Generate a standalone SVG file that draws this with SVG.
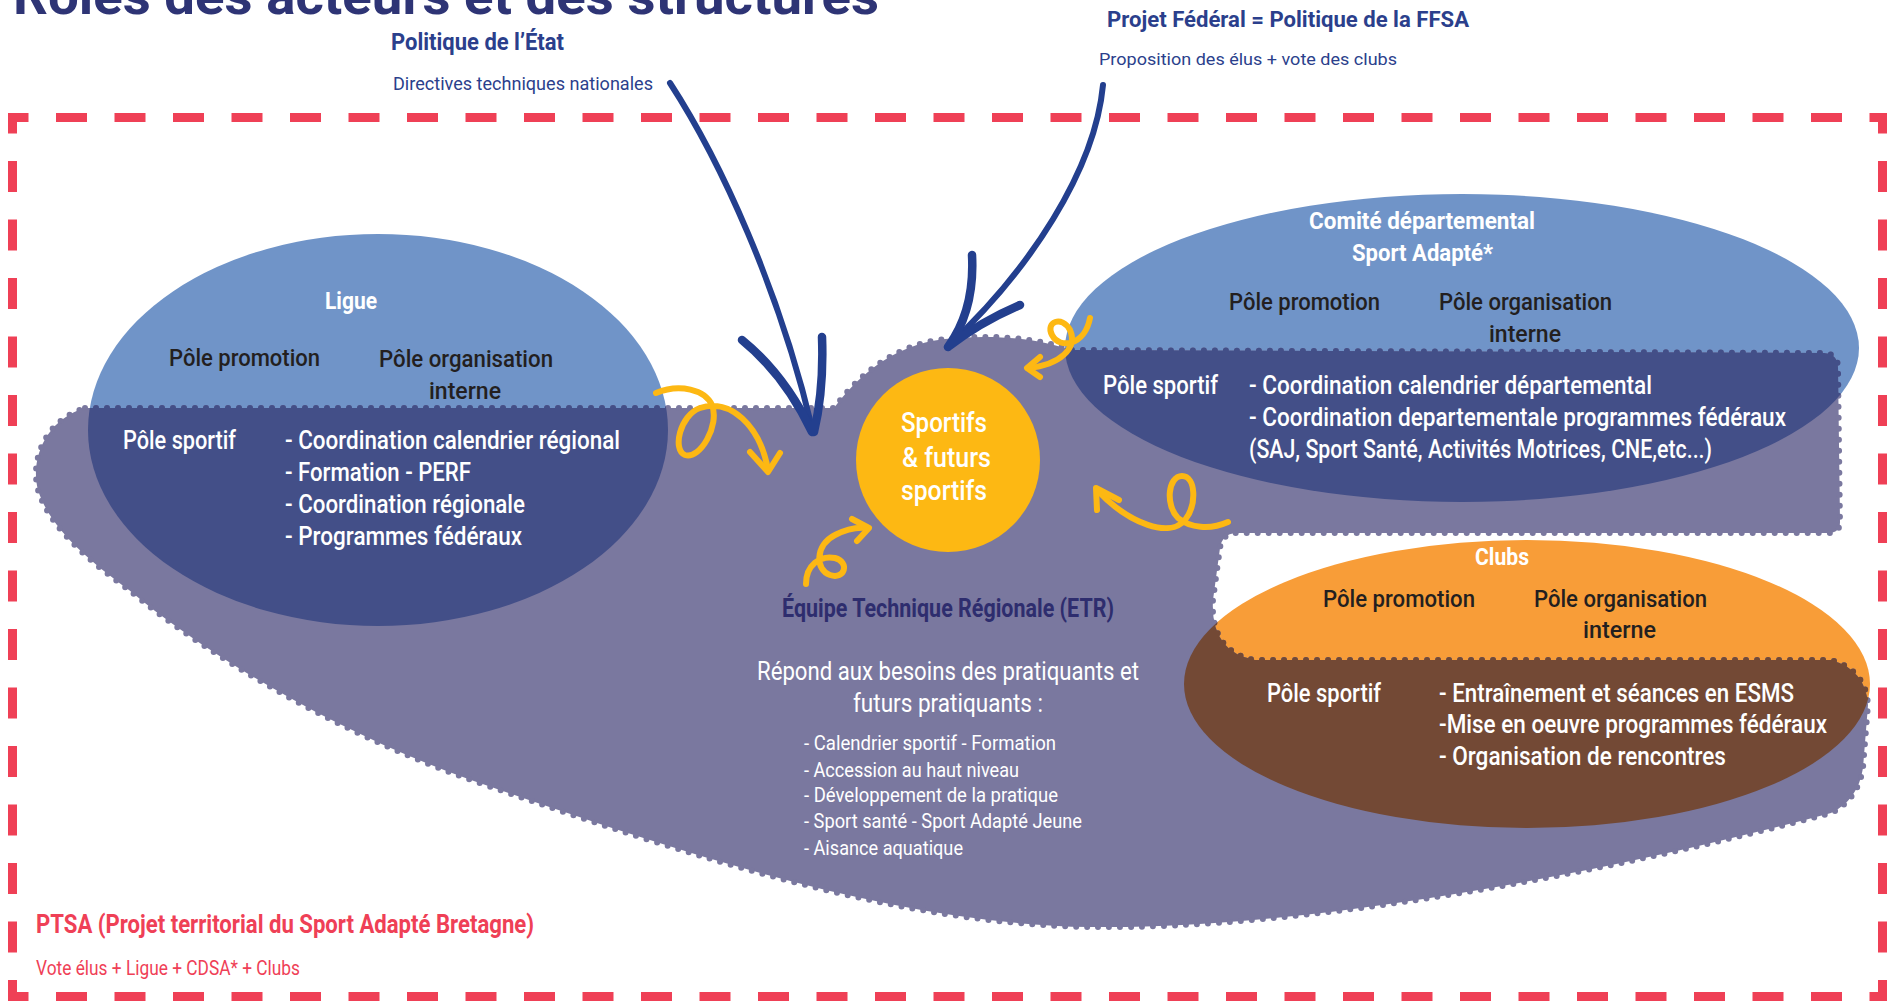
<svg xmlns="http://www.w3.org/2000/svg" width="1887" height="1001" viewBox="0 0 1887 1001">
<style>
text{font-family:Roboto,"Liberation Sans",sans-serif}
.dash{fill:none;stroke:#EF4056;stroke-width:9;stroke-dasharray:31 27.5;stroke-dashoffset:10.5}
.navyT{fill:#2B3F8C}
.b{font-weight:700}
.m{font-weight:500}
.w{fill:#fff}
.k{fill:#231F20;font-weight:500;font-size:24px}
.s{fill:#fff;font-weight:500;font-size:25px}
.lb{fill:#7094C8}
.nv{fill:#434F88}
.blob{fill:#7A789F;stroke:#7A789F;stroke-width:6;stroke-linecap:round;stroke-dasharray:0 11}
.bl{fill:none;stroke:#233F8E;stroke-linecap:round;stroke-linejoin:round}
.yl{fill:none;stroke:#FDB813;stroke-width:6;stroke-linecap:round;stroke-linejoin:round}
</style>
<defs>
<path id="blobPath" d="M 85,408 L 834,408 C 855,380 890,345 945,339 C 990,334 1040,338 1070,350 L 1824,353 Q 1838,354 1838,368 L 1840,522 Q 1840,533 1828,533 L 1236,533 Q 1222,534 1220,548 L 1213,600 Q 1210,652 1255,660 L 1831,660 Q 1866,670 1868,705 L 1863,768 Q 1858,800 1831,813 C 1600,875 1300,930 1090,927 C 900,924 700,860 471,780 C 330,730 200,650 129,590 C 95,565 50,530 38,490 C 30,460 45,420 85,408 Z"/>
<mask id="blobMask" maskUnits="userSpaceOnUse" x="0" y="0" width="1887" height="1001">
<use href="#blobPath" fill="#fff" stroke="#fff" stroke-width="6" stroke-linecap="round" stroke-dasharray="0 11"/>
</mask>
</defs>
<rect width="1887" height="1001" fill="#fff"/>

<g id="title">
<text x="13" y="14" class="b" font-size="52" fill="#2E3475" textLength="866" lengthAdjust="spacingAndGlyphs">Rôles des acteurs et des structures</text>
</g>

<g id="border">
<path class="dash" d="M 8,117.5 H 1887"/>
<path class="dash" d="M 12.5,113 V 1001"/>
<path class="dash" d="M 1882.5,113 V 1001"/>
<path class="dash" d="M 8,996.5 H 1887"/>
</g>

<g id="etat">
<text x="391" y="50" class="navyT b" font-size="23" textLength="173" lengthAdjust="spacingAndGlyphs">Politique de l’État</text>
<text x="393" y="90" class="navyT" font-size="19" textLength="260" lengthAdjust="spacingAndGlyphs">Directives techniques nationales</text>
</g>

<g id="ffsa">
<text x="1107" y="27" class="navyT b" font-size="22" textLength="362" lengthAdjust="spacingAndGlyphs">Projet Fédéral = Politique de la FFSA</text>
<text x="1099" y="65" class="navyT" font-size="17" textLength="298" lengthAdjust="spacingAndGlyphs">Proposition des élus + vote des clubs</text>
</g>

<g id="shapes">
<ellipse class="lb" cx="378" cy="430" rx="290" ry="196"/>
<ellipse class="lb" cx="1462" cy="348" rx="397" ry="154"/>
<ellipse fill="#F89D38" cx="1527" cy="684" rx="343" ry="144"/>
<use href="#blobPath" class="blob"/>
<ellipse class="nv" cx="378" cy="430" rx="290" ry="196" mask="url(#blobMask)"/>
<ellipse class="nv" cx="1462" cy="348" rx="397" ry="154" mask="url(#blobMask)"/>
<ellipse fill="#734935" cx="1527" cy="684" rx="343" ry="144" mask="url(#blobMask)"/>
</g>

<g id="ligue">
<text x="325" y="309" class="w b" font-size="23" textLength="52" lengthAdjust="spacingAndGlyphs">Ligue</text>
<text x="169" y="366" class="k" textLength="151" lengthAdjust="spacingAndGlyphs">Pôle promotion</text>
<text x="379" y="367" class="k" textLength="174" lengthAdjust="spacingAndGlyphs">Pôle organisation</text>
<text x="429" y="399" class="k" textLength="72" lengthAdjust="spacingAndGlyphs">interne</text>
<text x="123" y="449" class="s" textLength="113" lengthAdjust="spacingAndGlyphs">Pôle sportif</text>
<text x="285" y="449" class="s" textLength="335" lengthAdjust="spacingAndGlyphs">- Coordination calendrier régional</text>
<text x="285" y="481" class="s" textLength="186" lengthAdjust="spacingAndGlyphs">- Formation - PERF</text>
<text x="285" y="513" class="s" textLength="240" lengthAdjust="spacingAndGlyphs">- Coordination régionale</text>
<text x="285" y="545" class="s" textLength="237" lengthAdjust="spacingAndGlyphs">- Programmes fédéraux</text>
</g>

<g id="comite">
<text x="1309" y="229" class="w b" font-size="24" textLength="226" lengthAdjust="spacingAndGlyphs">Comité départemental</text>
<text x="1352" y="261" class="w b" font-size="24" textLength="141" lengthAdjust="spacingAndGlyphs">Sport Adapté*</text>
<text x="1229" y="310" class="k" textLength="151" lengthAdjust="spacingAndGlyphs">Pôle promotion</text>
<text x="1439" y="310" class="k" textLength="173" lengthAdjust="spacingAndGlyphs">Pôle organisation</text>
<text x="1489" y="342" class="k" textLength="72" lengthAdjust="spacingAndGlyphs">interne</text>
<text x="1103" y="394" class="s" textLength="115" lengthAdjust="spacingAndGlyphs">Pôle sportif</text>
<text x="1249" y="394" class="s" textLength="403" lengthAdjust="spacingAndGlyphs">- Coordination calendrier départemental</text>
<text x="1249" y="426" class="s" textLength="537" lengthAdjust="spacingAndGlyphs">- Coordination departementale programmes fédéraux</text>
<text x="1249" y="458" class="s" textLength="463" lengthAdjust="spacingAndGlyphs">(SAJ, Sport Santé, Activités Motrices, CNE,etc...)</text>
</g>

<g id="clubs">
<text x="1475" y="565" class="w b" font-size="24" textLength="54" lengthAdjust="spacingAndGlyphs">Clubs</text>
<text x="1323" y="607" class="k" textLength="152" lengthAdjust="spacingAndGlyphs">Pôle promotion</text>
<text x="1534" y="607" class="k" textLength="173" lengthAdjust="spacingAndGlyphs">Pôle organisation</text>
<text x="1583" y="638" class="k" textLength="73" lengthAdjust="spacingAndGlyphs">interne</text>
<text x="1267" y="702" class="s" textLength="114" lengthAdjust="spacingAndGlyphs">Pôle sportif</text>
<text x="1439" y="702" class="s" textLength="355" lengthAdjust="spacingAndGlyphs">- Entraînement et séances en ESMS</text>
<text x="1439" y="733" class="s" textLength="388" lengthAdjust="spacingAndGlyphs">-Mise en oeuvre programmes fédéraux</text>
<text x="1439" y="765" class="s" textLength="287" lengthAdjust="spacingAndGlyphs">- Organisation de rencontres</text>
</g>

<g id="sportifs">
<circle cx="948" cy="460" r="92" fill="#FDB813"/>
<text x="901" y="432" class="w m" font-size="28" textLength="86" lengthAdjust="spacingAndGlyphs">Sportifs</text>
<text x="902" y="467" class="w m" font-size="28" textLength="89" lengthAdjust="spacingAndGlyphs">&amp; futurs</text>
<text x="901" y="500" class="w m" font-size="28" textLength="86" lengthAdjust="spacingAndGlyphs">sportifs</text>
</g>

<g id="etr">
<text x="782" y="617" class="b" fill="#2E2D6E" font-size="25" textLength="332" lengthAdjust="spacingAndGlyphs">Équipe Technique Régionale (ETR)</text>
<text x="757" y="680" class="w" font-size="25" textLength="382" lengthAdjust="spacingAndGlyphs">Répond aux besoins des pratiquants et</text>
<text x="853" y="712" class="w" font-size="25" textLength="190" lengthAdjust="spacingAndGlyphs">futurs pratiquants :</text>
<text x="804" y="750" class="w" font-size="20" textLength="252" lengthAdjust="spacingAndGlyphs">- Calendrier sportif - Formation</text>
<text x="804" y="777" class="w" font-size="20" textLength="215" lengthAdjust="spacingAndGlyphs">- Accession au haut niveau</text>
<text x="804" y="802" class="w" font-size="20" textLength="254" lengthAdjust="spacingAndGlyphs">- Développement de la pratique</text>
<text x="804" y="828" class="w" font-size="20" textLength="278" lengthAdjust="spacingAndGlyphs">- Sport santé - Sport Adapté Jeune</text>
<text x="804" y="855" class="w" font-size="20" textLength="159" lengthAdjust="spacingAndGlyphs">- Aisance aquatique</text>
</g>

<g id="ptsa">
<text x="36" y="933" class="b" fill="#EF4056" font-size="25" textLength="498" lengthAdjust="spacingAndGlyphs">PTSA (Projet territorial du Sport Adapté Bretagne)</text>
<text x="36" y="975" fill="#EF4056" font-size="20" textLength="264" lengthAdjust="spacingAndGlyphs">Vote élus + Ligue + CDSA* + Clubs</text>
</g>

<g id="connectors">
<path class="bl" stroke-width="6" d="M 670,83 C 720,160 780,290 813,432"/>
<path class="bl" stroke-width="8.5" d="M 742,340 Q 785,375 812,432 M 822,337 Q 824,390 814,432"/>
<path class="bl" stroke-width="6" d="M 1103,85 C 1095,170 1030,270 947,347"/>
<path class="bl" stroke-width="8.5" d="M 972,255 Q 975,310 948,347 M 1020,305 Q 980,322 948,347"/>
<path class="yl" d="M 656,393 C 680,383 705,390 712,405 C 720,425 700,460 685,455 C 672,450 680,415 700,408 C 730,398 760,425 768,470"/>
<path class="yl" d="M 750,452 L 768,472 L 780,453"/>
<path class="yl" d="M 1090,318 C 1085,345 1060,350 1052,335 C 1045,322 1062,315 1070,330 C 1078,348 1060,365 1028,368"/>
<path class="yl" d="M 1040,357 L 1027,368 L 1040,377"/>
<path class="yl" d="M 1228,522 C 1210,530 1190,528 1178,518 C 1165,505 1168,476 1182,476 C 1196,476 1197,505 1185,520 C 1170,538 1130,525 1097,490"/>
<path class="yl" d="M 1097,510 L 1096,488 L 1119,500"/>
<path class="yl" d="M 806,584 C 806,565 820,555 835,558 C 850,562 845,580 830,575 C 815,570 815,545 835,535 C 848,528 860,527 868,528"/>
<path class="yl" d="M 852,519 L 869,528 L 857,541"/>
</g>
</svg>
